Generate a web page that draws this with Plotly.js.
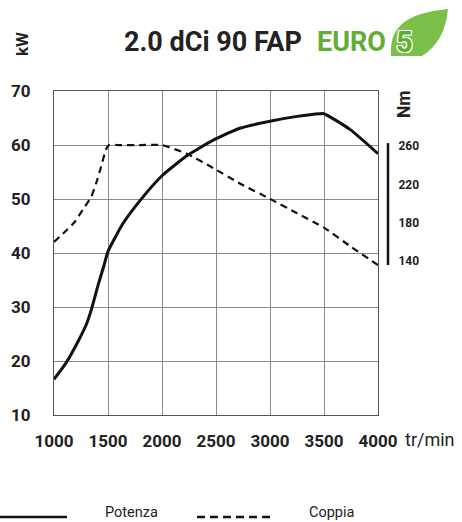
<!DOCTYPE html>
<html>
<head>
<meta charset="utf-8">
<script src="https://cdn.plot.ly/plotly-3.0.1.min.js"></script>
<style>
html,body{margin:0;padding:0;background:#fff;}
#chart{width:462px;height:522px;}
</style>
</head>
<body>
<div id="chart"></div>
<script>
// Data
var powerRpm = [1000,1110,1230,1300,1350,1410,1460,1500,1640,1800,2000,2230,2475,2720,3000,3250,3460,3500,3740,4000];
var powerKw  = [16.6,19.6,23.9,26.8,29.8,34.2,37.5,40.3,45.5,49.8,54.3,58.0,60.9,63.1,64.4,65.3,65.8,65.8,62.9,58.4];
var torqueRpm = [1000,1185,1280,1345,1390,1435,1480,1510,1600,1800,2000,2230,2475,2720,3000,3250,3500,3750,4000];
var torqueNm  = [160,180,196,207,221,238,256,261,261,261,261,252,237,221,205,190,175,155,136];
var xTicks = [1000,1500,2000,2500,3000,3500,4000];
var kwTicks = [10,20,30,40,50,60,70];
var nmTicks = [140,180,220,260];

var FONT = "Roboto, 'Liberation Sans', sans-serif";

function px(v){ return (v - 54) / 324; }
function py(v){ return (415 - v) / 324; }

var traces = [
  {x: powerRpm, y: powerKw, type: 'scatter', mode: 'lines', name: 'Potenza',
   line: {color: '#111', width: 3, shape: 'spline', smoothing: 0.5}, showlegend: false, hoverinfo: 'skip'},
  {x: torqueRpm, y: torqueNm, type: 'scatter', mode: 'lines', name: 'Coppia', yaxis: 'y2',
   line: {color: '#111', width: 2.2, dash: '7px,5px', shape: 'spline', smoothing: 0.4}, showlegend: false, hoverinfo: 'skip'}
];

var layout = {
  width: 462, height: 522,
  margin: {l: 54, r: 84, t: 91, b: 107, pad: 0},
  paper_bgcolor: '#fff', plot_bgcolor: '#fff',
  showlegend: false,
  font: {family: FONT, color: '#222'},
  xaxis: {
    range: [1000, 4000], tickvals: xTicks, ticktext: xTicks.map(String),
    showgrid: true, gridcolor: '#8a8a8a', gridwidth: 1,
    showline: true, linecolor: '#555', linewidth: 1, mirror: true,
    ticks: 'outside', ticklen: 11, tickcolor: 'rgba(0,0,0,0)',
    tickfont: {family: FONT, size: 17, weight: 'bold', color: '#222'},
    zeroline: false, fixedrange: true
  },
  yaxis: {
    range: [10, 70], tickvals: kwTicks, ticktext: kwTicks.map(String),
    showgrid: true, gridcolor: '#8a8a8a', gridwidth: 1,
    showline: true, linecolor: '#555', linewidth: 1, mirror: true,
    ticks: 'outside', ticklen: 19, tickcolor: 'rgba(0,0,0,0)',
    tickfont: {family: FONT, size: 17, weight: 'bold', color: '#222'},
    zeroline: false, fixedrange: true
  },
  yaxis2: {
    overlaying: 'y', side: 'right', anchor: 'x',
    range: [-20.2, 317.3], tickvals: nmTicks, ticktext: nmTicks.map(String),
    showgrid: false, showline: false, zeroline: false,
    ticks: 'outside', ticklen: 17, tickcolor: 'rgba(0,0,0,0)',
    tickfont: {family: FONT, size: 12, weight: 'bold', color: '#222'},
    fixedrange: true
  },
  shapes: [
    {type: 'line', xref: 'paper', yref: 'y2', x0: px(388), x1: px(388), y0: 136, y1: 263,
     line: {color: '#111', width: 2.5}},
    {type: 'line', xref: 'paper', yref: 'paper', x0: px(0), x1: px(67), y0: py(517), y1: py(517),
     line: {color: '#111', width: 2.5}},
    {type: 'line', xref: 'paper', yref: 'paper', x0: px(197), x1: px(271), y0: py(517), y1: py(517),
     line: {color: '#111', width: 2.5, dash: '8px,5px'}},
    {type: 'path', xref: 'paper', yref: 'paper',
     path: 'M ' + px(391) + ' ' + py(50) +
           ' C ' + px(391) + ' ' + py(28) + ', ' + px(405) + ' ' + py(13) + ', ' + px(448) + ' ' + py(9) +
           ' C ' + px(446) + ' ' + py(30) + ', ' + px(438) + ' ' + py(46) + ', ' + px(422) + ' ' + py(56) +
           ' L ' + px(391) + ' ' + py(56) + ' Z',
     fillcolor: '#7cc04b', line: {width: 0}}
  ],
  annotations: [
    {text: '2.0 dCi 90 FAP', xref: 'paper', yref: 'paper', x: px(212.5), y: py(42.5),
     xanchor: 'center', yanchor: 'middle', showarrow: false,
     font: {family: FONT, size: 27, weight: 'bold', color: '#222'}},
    {text: 'EURO', xref: 'paper', yref: 'paper', x: px(351), y: py(42.5),
     xanchor: 'center', yanchor: 'middle', showarrow: false,
     font: {family: FONT, size: 27, weight: 'bold', color: '#62ad36'}},
    {text: '5', xref: 'paper', yref: 'paper', x: px(404), y: py(42.5),
     xanchor: 'center', yanchor: 'middle', showarrow: false,
     font: {family: FONT, size: 29, weight: 'bold', color: '#5fae32',
            shadow: '1px 0 0 #fff, -1px 0 0 #fff, 0 1px 0 #fff, 0 -1px 0 #fff, 1px 1px 0 #fff, -1px -1px 0 #fff, 1px -1px 0 #fff, -1px 1px 0 #fff'}},
    {text: 'kW', xref: 'paper', yref: 'paper', x: px(22), y: py(44),
     xanchor: 'center', yanchor: 'middle', showarrow: false, textangle: -90,
     font: {family: FONT, size: 17, weight: 'bold', color: '#222'}},
    {text: 'Nm', xref: 'paper', yref: 'paper', x: px(404), y: py(104),
     xanchor: 'center', yanchor: 'middle', showarrow: false, textangle: -90,
     font: {family: FONT, size: 17.5, weight: 'bold', color: '#222'}},
    {text: 'tr/min', xref: 'paper', yref: 'paper', x: px(430), y: py(440),
     xanchor: 'center', yanchor: 'middle', showarrow: false,
     font: {family: FONT, size: 18, color: '#222'}},
    {text: 'Potenza', xref: 'paper', yref: 'paper', x: px(131), y: py(512),
     xanchor: 'center', yanchor: 'middle', showarrow: false,
     font: {family: FONT, size: 14.5, color: '#222'}},
    {text: 'Coppia', xref: 'paper', yref: 'paper', x: px(332), y: py(512),
     xanchor: 'center', yanchor: 'middle', showarrow: false,
     font: {family: FONT, size: 14.5, color: '#222'}}
  ]
};

Plotly.newPlot('chart', traces, layout, {displayModeBar: false, staticPlot: true});
</script>
</body>
</html>
